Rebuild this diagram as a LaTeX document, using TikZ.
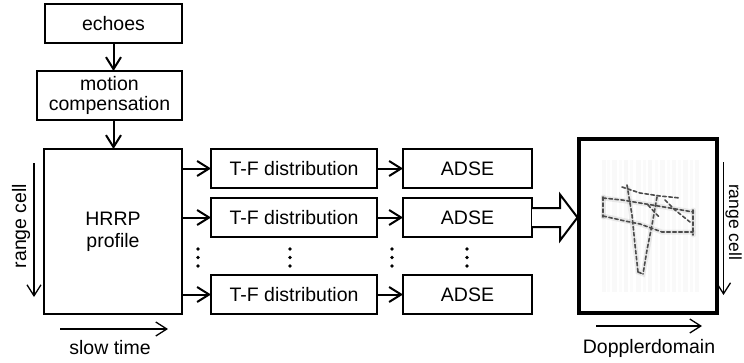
\documentclass[tikz,border=0pt]{standalone}
\usepackage{fontspec}
\setmainfont{Liberation Sans}
\usetikzlibrary{arrows.meta,calc}
\begin{document}
\begin{tikzpicture}[x=1pt,y=-1pt,
  box/.style={draw,line width=1.4pt,outer sep=0pt,inner sep=1pt,align=center,font=\fontsize{19.5}{22}\selectfont},
  conn/.style={line width=2pt,-{Straight Barb[length=12pt,width=15pt,line width=2pt]}},
  axis/.style={line width=1.3pt,-{Straight Barb[length=11pt,width=14pt,line width=1.3pt]}},
  lbl/.style={font=\fontsize{19.5}{22}\selectfont,inner sep=0pt},
  dotc/.style={fill,circle,inner sep=0pt,minimum size=3.6pt},
  plane/.style={line width=1.6pt,gray!60!black,dash pattern=on 3.5pt off 2.5pt,line cap=round},
  planeblur/.style={line width=5pt,gray,opacity=0.15,line cap=round}]
\useasboundingbox (0,0) rectangle (744,362);
% left column
\node[box,minimum width=137pt,minimum height=39pt] (echo) at (113.5,23.5) {echoes};
\node[box,minimum width=145pt,minimum height=49pt] (mc) at (109.5,95.5) {motion\\[-2pt]compensation};
\node[box,minimum width=138pt,minimum height=165pt] (hrrp) at (113,231.5) {HRRP\\profile};
\draw[conn] (echo.south) -- (echo.south |- mc.north);
\draw[conn] (echo.south |- mc.south) -- (echo.south |- hrrp.north);
% T-F column
\foreach \n/\y in {1/168.5,2/217.5,4/294.5}{
  \node[box,minimum width=166pt,minimum height=39pt] (tf\n) at (294,\y) {T-F distribution};
  \node[box,minimum width=129pt,minimum height=39pt] (ad\n) at (467.5,\y) {ADSE};
  \draw[conn] (hrrp.east |- tf\n.west) -- (tf\n.west);
  \draw[conn] (tf\n.east) -- (ad\n.west);
}
% dots
\foreach \x in {198,290,392,467}{
  \foreach \y in {249,257.5,266}{
    \node[dotc] (d\x-\y) at (\x,\y) {};
  }
}
% image box
\node[draw,line width=3.5pt,outer sep=0pt,minimum width=138pt,minimum height=174pt] (img) at (648,226) {};
% vertical streaks
\foreach \x/\w/\o in {602/4/0.05,607/3/0.03,612/5/0.05,619/3/0.03,624/4/0.06,630/3/0.03,636/5/0.05,643/3/0.04,648/4/0.06,655/3/0.03,660/5/0.05,667/3/0.03,672/4/0.05,678/3/0.03,683/5/0.05,690/3/0.04,695/4/0.05}{
  \fill[gray,opacity=\o] (\x,160) rectangle ++(\w,132);
}
% plane outline (blur)
\draw[planeblur] (603,197) -- (603,217);
\draw[planeblur] (603,198) -- (640,203) -- (693,212);
\draw[planeblur] (603,216) -- (640,224) -- (662,232) -- (693,232);
\draw[planeblur] (693,210) -- (693,235);
\draw[planeblur] (628,188) -- (638,272) -- (643,274) -- (657,197);
% plane outline
\draw[plane] (603,197) -- (603,217);
\draw[plane] (603,198) -- (622,200) -- (640,203) -- (670,208) -- (693,212);
\draw[plane] (603,216) -- (625,221) -- (640,224) -- (662,232) -- (693,232);
\draw[plane] (693,210) -- (693,235);
\draw[plane] (627,185) -- (632,215) -- (635,245) -- (638,272);
\draw[plane] (638,272) -- (643,274);
\draw[plane] (657,197) -- (652,225) -- (647,250) -- (643,274);
\draw[plane] (622,187) -- (640,193) -- (660,196) -- (680,198);
\draw[plane] (665,200) -- (675,210) -- (690,222);
\draw[plane] (648,205) -- (660,218);
% hollow arrow
\coordinate (ha) at (ad2.east);
\coordinate (hb) at (img.west);
\draw[line width=2pt,fill=white,line join=miter]
  ($(ha)+(0,-9.5)$) -- ($(ha)+(28,-9.5)$) -- ($(ha)+(28,-23)$) -- ($(hb |- ha)+(-1.5,0)$)
  -- ($(ha)+(28,23)$) -- ($(ha)+(28,9.5)$) -- ($(ha)+(0,9.5)$);
% axis arrows and labels
\coordinate (lc1) at (34,163); \coordinate (lc2) at (34,297);
\draw[axis] (lc1) -- (lc2);
\node[lbl,rotate=90] (lrc) at (21,226) {range cell};
\coordinate (st1) at (60,329); \coordinate (st2) at (168,329);
\draw[axis] (st1) -- (st2);
\node[lbl] (stl) at (110,348) {slow time};
\coordinate (rc1) at (723.5,162); \coordinate (rc2) at (723.5,295);
\draw[axis] (rc1) -- (rc2);
\node[lbl,font=\fontsize{17.5}{20}\selectfont,rotate=-90,anchor=base] (rrc) at (729,222) {range cell};
\coordinate (dd1) at (596,326); \coordinate (dd2) at (702,326);
\draw[axis] (dd1) -- (dd2);
\node[lbl] (ddl) at (649,348) {Dopplerdomain};
\end{tikzpicture}
\end{document}
